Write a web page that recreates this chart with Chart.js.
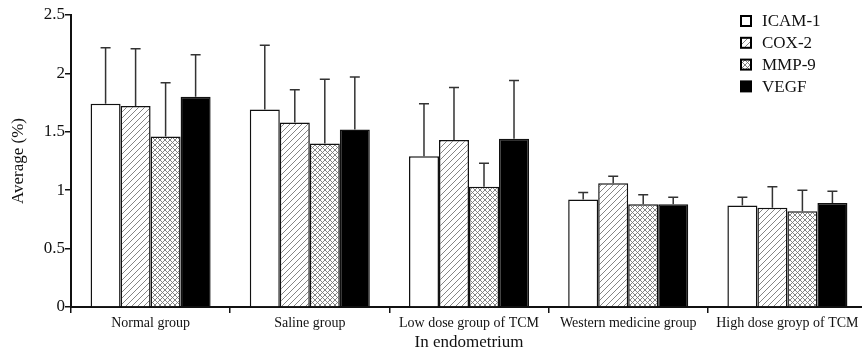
<!DOCTYPE html>
<html>
<head>
<meta charset="utf-8">
<script src="https://cdn.jsdelivr.net/npm/chart.js@4"></script>
<style>
  html, body { margin: 0; padding: 0; background: #fff; overflow: hidden; }
  #wrap { width: 870px; height: 354px; position: relative; }
</style>
</head>
<body>
<div id="wrap"><canvas id="endoChart"></canvas></div>
<script>
const categories = ['Normal group', 'Saline group', 'Low dose group of TCM', 'Western medicine group', 'High dose groyp of TCM'];
const seriesNames = ['ICAM-1', 'COX-2', 'MMP-9', 'VEGF'];
const icam = [1.74, 1.69, 1.29, 0.92, 0.87];
const icamErr = [0.48, 0.55, 0.45, 0.06, 0.07];
const cox = [1.72, 1.58, 1.43, 1.06, 0.85];
const coxErr = [0.49, 0.28, 0.45, 0.06, 0.18];
const mmp = [1.46, 1.40, 1.03, 0.88, 0.82];
const mmpErr = [0.46, 0.55, 0.20, 0.08, 0.18];
const vegf = [1.80, 1.52, 1.44, 0.88, 0.89];
const vegfErr = [0.36, 0.45, 0.50, 0.06, 0.10];
const yTicks = [0, 0.5, 1, 1.5, 2, 2.5];
const yTickLabels = ['0', '0.5', '1', '1.5', '2', '2.5'];

const serif = "'Liberation Serif', 'Times New Roman', serif";

// hatch patterns for the bar fills
function makeHatch(size, cross) {
  const c = document.createElement('canvas');
  c.width = size; c.height = size;
  const g = c.getContext('2d');
  g.fillStyle = '#fff';
  g.fillRect(0, 0, size, size);
  g.strokeStyle = '#777';
  g.lineWidth = 0.9;
  g.beginPath();
  g.moveTo(0, size); g.lineTo(size, 0);
  g.moveTo(-1, 1); g.lineTo(1, -1);
  g.moveTo(size - 1, size + 1); g.lineTo(size + 1, size - 1);
  if (cross) {
    g.moveTo(0, 0); g.lineTo(size, size);
    g.moveTo(size - 1, -1); g.lineTo(size + 1, 1);
    g.moveTo(-1, size - 1); g.lineTo(1, size + 1);
  }
  g.stroke();
  return g.createPattern(c, 'repeat');
}

const ctx = document.getElementById('endoChart').getContext('2d');
const fills = ['#ffffff', makeHatch(6, false), makeHatch(5, true), '#000000'];
const values = [icam, cox, mmp, vegf];
const errors = [icamErr, coxErr, mmpErr, vegfErr];

const errorBars = {
  id: 'errorBars',
  afterDatasetsDraw(chart) {
    const c = chart.ctx;
    const y = chart.scales.y;
    c.save();
    c.strokeStyle = '#333';
    c.lineWidth = 1.5;
    chart.data.datasets.forEach((ds, i) => {
      const meta = chart.getDatasetMeta(i);
      meta.data.forEach((bar, j) => {
        const top = y.getPixelForValue(ds.data[j] + errors[i][j]);
        c.beginPath();
        c.moveTo(bar.x, bar.y);
        c.lineTo(bar.x, top);
        c.moveTo(bar.x - 5, top);
        c.lineTo(bar.x + 5, top);
        c.stroke();
      });
    });
    c.restore();
  }
};

const boxLegend = {
  id: 'boxLegend',
  afterDraw(chart) {
    const c = chart.ctx;
    c.save();
    c.font = '17px ' + serif;
    c.textBaseline = 'middle';
    chart.data.datasets.forEach((ds, i) => {
      const cy = 21 + i * 21.8;
      c.fillStyle = ds.backgroundColor;
      c.fillRect(741, cy - 5, 10, 10);
      c.strokeStyle = '#000';
      c.lineWidth = 2;
      c.strokeRect(741, cy - 5, 10, 10);
      c.fillStyle = '#111';
      c.fillText(ds.label, 762, cy + 1);
    });
    c.restore();
  }
};

new Chart(ctx, {
  type: 'bar',
  data: {
    labels: categories,
    datasets: seriesNames.map((name, i) => ({
      label: name,
      data: values[i],
      backgroundColor: fills[i],
      borderColor: '#111',
      borderWidth: 1.5,
      categoryPercentage: 0.754,
      barPercentage: 1
    }))
  },
  options: {
    responsive: true,
    maintainAspectRatio: false,
    animation: false,
    layout: { padding: { top: 15, right: 3, left: 0, bottom: 0 } },
    plugins: {
      legend: { display: false },
      tooltip: { enabled: false }
    },
    scales: {
      x: {
        grid: { offset: true, drawOnChartArea: false, drawTicks: true, tickLength: 6, color: '#111', lineWidth: 1.5 },
        border: { color: '#111', width: 2 },
        ticks: { color: '#111', font: { family: serif, size: 14 }, padding: 2, maxRotation: 0, autoSkip: false },
        title: { display: true, text: 'In endometrium', color: '#111', font: { family: serif, size: 17 }, padding: { top: 0, bottom: 1 } },
        afterFit(scale) { scale.height = 47; }
      },
      y: {
        min: 0,
        max: 2.5,
        afterBuildTicks(scale) { scale.ticks = yTicks.map(v => ({ value: v })); },
        grid: { drawOnChartArea: false, drawTicks: true, tickLength: 6, color: '#111', lineWidth: 1.5 },
        border: { color: '#111', width: 2 },
        ticks: {
          color: '#111',
          font: { family: serif, size: 17 },
          padding: 0,
          callback: (v, i) => yTickLabels[i]
        },
        title: { display: true, text: 'Average (%)', color: '#111', font: { family: serif, size: 17 }, padding: { top: 8, bottom: 0 } },
        afterFit(scale) { scale.width = 71; }
      }
    }
  },
  plugins: [errorBars, boxLegend]
});
</script>
</body>
</html>
